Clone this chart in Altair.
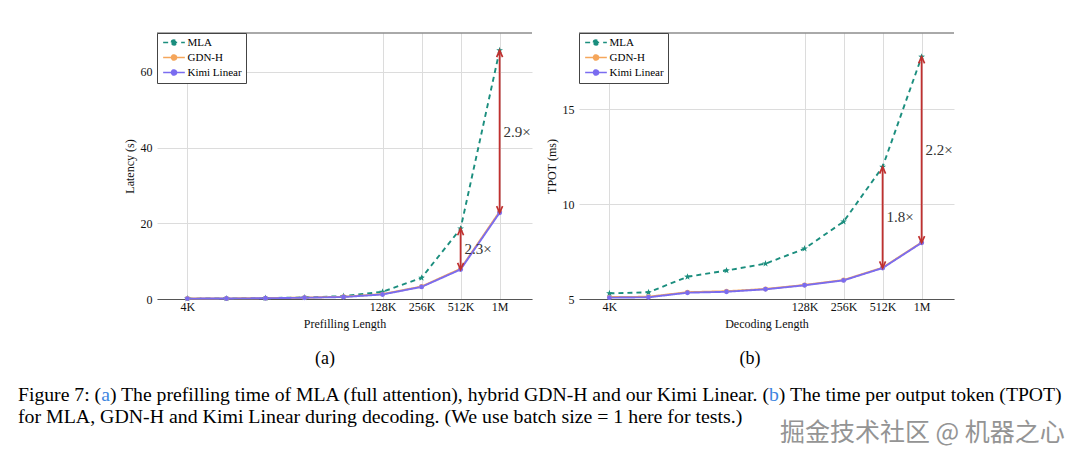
import altair as alt
import pandas as pd

SERIF = "Liberation Serif"
CJK = "Noto Sans CJK SC"

# ---------------- data ----------------
lengths_k = [4, 8, 16, 32, 64, 128, 256, 512, 1024]
tick_lengths = [4, 128, 256, 512, 1024]
series_names = ["MLA", "GDN-H", "Kimi Linear"]
series_markers = ["star", "circle", "circle"]
series_colors = ["#1b8e7e", "#f5a65b", "#7a6cf0"]

prefill_mla = [0.1, 0.15, 0.25, 0.4, 0.75, 1.9, 5.6, 18.6, 65.7]
prefill_gdn = [0.12, 0.16, 0.23, 0.36, 0.6, 1.3, 3.3, 8.0, 23.1]
prefill_kimi = [0.1, 0.14, 0.2, 0.33, 0.52, 1.2, 3.2, 7.8, 22.8]

decode_mla = [5.3, 5.35, 6.17, 6.5, 6.86, 7.65, 9.07, 11.95, 17.75]
decode_gdn = [5.1, 5.12, 5.36, 5.41, 5.53, 5.74, 6.0, 6.65, 7.98]
decode_kimi = [5.07, 5.09, 5.33, 5.38, 5.51, 5.72, 5.98, 6.63, 7.96]

arrow_lengths = [512, 1024]
prefill_ratio_labels = ["2.3×", "2.9×"]
decode_ratio_labels = ["1.8×", "2.2×"]

prefill_y_ticks = [0, 20, 40, 60]
decode_y_ticks = [5, 10, 15]

subcaptions = ["(a)", "(b)"]
caption_line1_parts = ["Figure 7: (", "a",
                       ") The prefilling time of MLA (full attention), hybrid GDN-H and our Kimi Linear. (",
                       "b", ") The time per output token (TPOT)"]
caption_link_parts = ["a", "b"]
caption_line2 = "for MLA, GDN-H and Kimi Linear during decoding. (We use batch size = 1 here for tests.)"
watermark = "掘金技术社区 @ 机器之心"

# ---------------- style ----------------
W, H = 375, 266
X_DOMAIN = [2.33, 1820]
RED = "#c0302f"
LINK_BLUE = "#3d85e0"
STAR = ("M0,-1.45L0.34,-0.47L1.38,-0.45L0.55,0.18L0.85,1.17L0,0.58L-0.85,1.17"
        "L-0.55,0.18L-1.38,-0.45L-0.34,-0.47Z")
LEGEND_SYMBOL = ("M-3.1,0L3.1,0M-0.7,0A0.7,0.7,0,1,1,0.7,0A0.7,0.7,0,1,1,-0.7,0Z")
ARROW_UP = "M-0.85,1.9L0,0L0.85,1.9"
ARROW_DOWN = "M-0.85,-1.9L0,0L0.85,-1.9"
CAPTION1_SIZE = 19.7
CAPTION2_SIZE = 19.85
KERN_FIX = -3.0  # browser kerning makes the long caption segment a little narrower

# Times / Liberation Serif advance widths (per 1000 em), used to place caption segments
SERIF_WIDTHS = {" ": 250, "(": 333, ")": 333, ",": 250, "-": 333, ".": 250, ":": 278, "7": 500,
                "A": 722, "D": 722, "F": 556, "G": 722, "H": 722, "K": 722, "L": 611, "M": 889,
                "N": 722, "O": 722, "P": 556, "T": 611, "a": 444, "b": 500, "c": 444, "d": 500,
                "e": 444, "f": 333, "g": 500, "h": 500, "i": 278, "k": 500, "l": 278, "m": 778,
                "n": 500, "o": 500, "p": 500, "r": 333, "s": 389, "t": 278, "u": 500, "y": 500}


def text_width(s, size):
    return sum(SERIF_WIDTHS.get(c, 500) for c in s) * size / 1000.0


def make_legend():
    return alt.Legend(
        title=None, orient="top-left", offset=0, padding=4,
        strokeColor="#444", fillColor="white", cornerRadius=0,
        symbolType=LEGEND_SYMBOL, symbolSize=49, symbolStrokeWidth=1.7,
        symbolOffset=7.5, labelOffset=8, rowPadding=2,
        labelFont=SERIF, labelFontSize=11, labelColor="black",
    )


def make_panel(mla, gdn, kimi, ratio_labels, x_title, y_title, y_domain, y_ticks, caption_layers):
    long = pd.DataFrame({
        "length": lengths_k * 3,
        "series": [s for s in series_names for _ in lengths_k],
        "marker": [m for m in series_markers for _ in lengths_k],
        "value": mla + gdn + kimi,
    })
    idx = [lengths_k.index(v) for v in arrow_lengths]
    arrows = pd.DataFrame({
        "length": arrow_lengths,
        "top": [mla[i] for i in idx],
        "bottom": [kimi[i] for i in idx],
        "label": ratio_labels,
    })
    arrows["mid"] = (arrows["top"] + arrows["bottom"]) / 2

    xs = alt.Scale(type="log", base=2, domain=X_DOMAIN, nice=False)
    ys = alt.Scale(domain=y_domain, nice=False, zero=False)
    x_axis = alt.Axis(values=tick_lengths,
                      labelExpr="datum.value >= 1024 ? '1M' : datum.value + 'K'",
                      title=x_title, grid=True, ticks=False, domain=True)
    y_axis = alt.Axis(values=y_ticks, title=y_title, grid=True, ticks=False, domain=False)
    cscale = alt.Scale(domain=series_names, range=series_colors)

    def X(field="length"):
        return alt.X(f"{field}:Q", scale=xs, axis=x_axis, title=x_title)

    def Y(field):
        return alt.Y(f"{field}:Q", scale=ys, axis=y_axis, title=y_title)

    base = alt.Chart(long)
    lines = base.mark_line(strokeWidth=1.9).encode(
        x=X(), y=Y("value"),
        color=alt.Color("series:N", scale=cscale, legend=make_legend()),
        strokeDash=alt.StrokeDash("series:N",
                                  scale=alt.Scale(domain=series_names,
                                                  range=[[5, 4], [1, 0], [1, 0]]),
                                  legend=make_legend()),
    )
    points = base.mark_point(filled=True, opacity=1, size=24).encode(
        x=X(), y=Y("value"),
        fill=alt.Fill("series:N", scale=cscale, legend=make_legend()),
        shape=alt.Shape("marker:N",
                        scale=alt.Scale(domain=["star", "circle"], range=[STAR, "circle"]),
                        legend=None),
    )
    arr = alt.Chart(arrows)
    shafts = arr.mark_rule(color=RED, strokeWidth=1.8).encode(
        x=X(), y=Y("top"), y2="bottom:Q",
    )
    heads_up = arr.mark_point(shape=ARROW_UP, filled=False, color=RED, opacity=1,
                              strokeWidth=1.7, size=49).encode(x=X(), y=Y("top"))
    heads_down = arr.mark_point(shape=ARROW_DOWN, filled=False, color=RED, opacity=1,
                                strokeWidth=1.7, size=49).encode(x=X(), y=Y("bottom"))
    labels = arr.mark_text(align="left", baseline="middle", dx=4, font=SERIF,
                           fontSize=15, color="#333").encode(
        x=X(), y=Y("mid"), text="label:N",
    )
    frame = alt.Chart(pd.DataFrame({"f": [0]})).mark_rule(color="#555", strokeWidth=1).encode(
        x=alt.value(0), x2=alt.value(W), y=alt.value(0)
    )
    return alt.layer(lines, points, shafts, heads_up, heads_down, labels, frame,
                     *caption_layers).properties(width=W, height=H)


# caption texts: positioned relative to the top-left corner of panel (a)'s plot
one = pd.DataFrame({"k": [0]})


def txt(text, x, y, size, align="left", font=SERIF, color="black"):
    return alt.Chart(one).mark_text(text=text, font=font, fontSize=size, align=align,
                                    baseline="middle", color=color).encode(
        x=alt.value(x), y=alt.value(y))


OX, OY = 157, 32
caption_layers = [
    txt(subcaptions[0], 325 - OX, 358 - OY, 18, "center"),
    txt(subcaptions[1], 750 - OX, 358 - OY, 18, "center"),
]
cx = 18 - OX
for i, part in enumerate(caption_line1_parts):
    col = LINK_BLUE if part in caption_link_parts else "black"
    caption_layers.append(txt(part, cx, 394 - OY, CAPTION1_SIZE, color=col))
    cx += text_width(part, CAPTION1_SIZE)
    if i == 2:
        cx += KERN_FIX
caption_layers += [
    txt(caption_line2, 18 - OX, 416 - OY, CAPTION2_SIZE),
    txt(watermark, 780 - OX, 432 - OY, 25, font=CJK, color="#949494"),
]

panel_a = make_panel(prefill_mla, prefill_gdn, prefill_kimi, prefill_ratio_labels,
                     "Prefilling Length", "Latency (s)", [0, 70.3], prefill_y_ticks,
                     caption_layers)
panel_b = make_panel(decode_mla, decode_gdn, decode_kimi, decode_ratio_labels,
                     "Decoding Length", "TPOT (ms)", [5, 19], decode_y_ticks, [])

chart = alt.hconcat(panel_a, panel_b, spacing=47, bounds="flush").resolve_scale(
    color="independent", fill="independent", strokeDash="independent", shape="independent"
).properties(
    padding={"left": 18, "top": 32, "right": 5, "bottom": 5}
).configure_view(stroke=None).configure_axis(
    labelFont=SERIF, labelFontSize=12, labelColor="#111",
    titleFont=SERIF, titleFontSize=12, titleFontWeight="normal", titleColor="#111",
    gridColor="#dcdcdc", gridWidth=1,
).configure_axisX(
    domainColor="#555", domainWidth=1, labelPadding=2, titlePadding=6,
).configure_axisY(
    labelPadding=5, titlePadding=4,
)

chart.save("out.html", embed_options={"renderer": "svg", "actions": False})
